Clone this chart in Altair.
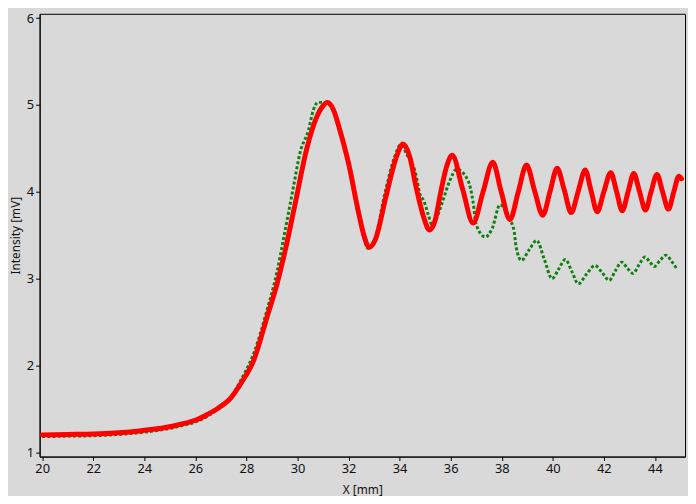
import altair as alt
import pandas as pd

# Red series (thick solid)
red_x = [20.0, 21.0, 22.0, 23.0, 23.8, 24.5, 25.1, 25.6, 26.1, 26.5, 26.9, 27.4, 27.8, 28.3, 28.8,
         29.2, 29.5, 29.9, 30.35, 30.75, 31.0, 31.17, 31.4, 31.65, 32.0, 32.4, 32.6, 32.81,
         33.05, 33.47, 33.85, 34.14, 34.4, 34.65, 34.95, 35.17, 35.4, 35.6, 35.85, 36.06,
         36.47, 36.88, 37.27, 37.65, 37.98, 38.32, 38.65, 38.97, 39.29, 39.61, 39.89, 40.17,
         40.45, 40.72, 41.0, 41.27, 41.5, 41.74, 42.0, 42.27, 42.5, 42.72, 42.95, 43.17,
         43.4, 43.63, 43.85, 44.08, 44.3, 44.53, 44.74, 44.94, 45.04]
red_y = [1.20, 1.205, 1.21, 1.225, 1.245, 1.27, 1.30, 1.335, 1.38, 1.44, 1.51, 1.63, 1.80, 2.07, 2.55,
         2.94, 3.30, 3.85, 4.48, 4.86, 4.99, 5.03, 4.95, 4.72, 4.33, 3.75, 3.50, 3.36,
         3.45, 3.95, 4.38, 4.55, 4.40, 4.05, 3.70, 3.56, 3.68, 3.98, 4.30, 4.42,
         4.03, 3.64, 4.00, 4.34, 4.00, 3.68, 4.00, 4.31, 4.01, 3.73, 4.00, 4.27,
         4.02, 3.76, 4.01, 4.25, 4.01, 3.77, 4.00, 4.22, 4.00, 3.78, 4.00, 4.21,
         4.00, 3.79, 4.00, 4.20, 4.00, 3.80, 4.00, 4.18, 4.15]

# Green series (dotted)
green_x = [20.0, 21.0, 22.0, 23.0, 23.8, 24.5, 25.1, 25.6, 26.1, 26.5, 26.9, 27.4, 27.8, 28.3, 28.81,
           29.2, 29.46, 29.85, 30.1, 30.43, 30.62, 30.8, 31.1, 31.4, 31.65, 32.0, 32.4, 32.6, 32.75,
           33.0, 33.4, 33.8, 34.04, 34.3, 34.62, 34.81, 34.94, 35.13, 35.26, 35.39, 35.65, 35.97,
           36.23, 36.68, 36.88, 37.0, 37.36, 37.63, 37.93, 38.3, 38.49, 38.56, 38.77, 39.07, 39.37,
           39.67, 39.97, 40.23, 40.49, 40.75, 41.0, 41.32, 41.65, 41.93, 42.21, 42.45, 42.7,
           42.92, 43.14, 43.38, 43.61, 43.8, 43.98, 44.2, 44.43, 44.65, 44.84]
green_y = [1.18, 1.185, 1.19, 1.205, 1.225, 1.25, 1.28, 1.315, 1.36, 1.42, 1.50, 1.64, 1.84, 2.15, 2.64,
           3.08, 3.47, 4.07, 4.45, 4.71, 4.94, 5.03, 5.03, 4.93, 4.70, 4.30, 3.72, 3.47, 3.35,
           3.42, 3.95, 4.40, 4.54, 4.42, 4.22, 3.96, 3.90, 3.73, 3.62, 3.66, 3.86, 4.13,
           4.26, 4.13, 3.88, 3.62, 3.48, 3.58, 3.85, 3.69, 3.54, 3.37, 3.21, 3.33, 3.44,
           3.22, 3.00, 3.11, 3.22, 3.08, 2.94, 3.05, 3.15, 3.07, 2.98, 3.09, 3.19,
           3.12, 3.06, 3.16, 3.25, 3.19, 3.14, 3.21, 3.27, 3.20, 3.12]

x_ticks = [20, 22, 24, 26, 28, 30, 32, 34, 36, 38, 40, 42, 44]
y_ticks = [1, 2, 3, 4, 5, 6]

red_df = pd.DataFrame({"x": red_x, "y": red_y})
green_df = pd.DataFrame({"x": green_x, "y": green_y})

xs = alt.Scale(domain=[19.9, 45.18], nice=False, zero=False)
ys = alt.Scale(domain=[0.95, 6.05], nice=False, zero=False)

xax = alt.Axis(values=x_ticks, format="d", title="X [mm]", grid=False, tickSize=4, labelPadding=2,
               titlePadding=9)
yax = alt.Axis(values=y_ticks, format="d", title="Intensity [mV]", grid=False, tickSize=4,
               labelPadding=2, titlePadding=4)

green = alt.Chart(green_df).mark_line(
    color="#0f7f0f", strokeWidth=3, strokeDash=[3, 2.2], strokeCap="butt", interpolate="monotone", clip=True
).encode(
    x=alt.X("x:Q", scale=xs, axis=xax),
    y=alt.Y("y:Q", scale=ys, axis=yax),
)

red = alt.Chart(red_df).mark_line(
    color="#ff0000", strokeWidth=5, interpolate="monotone", strokeCap="round", strokeJoin="round", clip=True
).encode(
    x=alt.X("x:Q", scale=xs),
    y=alt.Y("y:Q", scale=ys),
)

chart = alt.layer(green, red).properties(
    width=653, height=448,
    background="#d9d9d9",
    autosize=alt.AutoSizeParams(type="none"),
    padding={"left": 32, "top": 3, "right": 3, "bottom": 37},
).configure_view(
    stroke="black", strokeWidth=1, fill="#d9d9d9"
).configure_axis(
    domainColor="black", tickColor="black", labelColor="#111111", titleColor="#111111",
    labelFont="Noto Sans", titleFont="Noto Sans", labelFontSize=13, titleFontSize=12,
    titleFontWeight="normal"
)

chart.save("out.html", embed_options={"renderer": "svg", "actions": False})
